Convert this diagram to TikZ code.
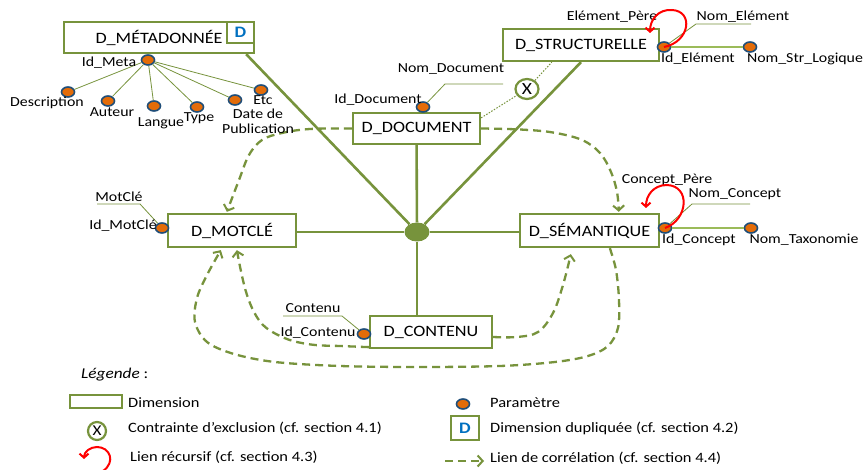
\documentclass[tikz,border=0pt]{standalone}
\usepackage{fontspec}
\setmainfont{Carlito}[FakeStretch=1.15]
\usetikzlibrary{arrows.meta,calc,shapes.geometric}
\definecolor{olive}{HTML}{77933C}
\definecolor{lgreen}{HTML}{9BBB59}
\definecolor{dotorange}{HTML}{E36C09}
\definecolor{dotblue}{HTML}{1F4E79}
\definecolor{dblue}{HTML}{0070C0}
\newcommand\myLbl{\fontsize{13.8}{15}\selectfont}
\newcommand\myBox{\fontsize{15.8}{18}\selectfont}
\begin{document}
\begin{tikzpicture}[x=1pt,y=-1pt,
  every node/.style={font=\myLbl, text=black, inner sep=1pt},
  dimbox/.style={draw=olive, line width=2.3pt, fill=white, inner sep=0pt, font=\myBox},
  badge/.style={dimbox, text=dblue, font=\bfseries\fontsize{16}{16}\selectfont},
  param/.style={ellipse, draw=dotblue, fill=dotorange, line width=1.6pt, minimum width=13pt, minimum height=10pt, inner sep=0pt},
  xcirc/.style={circle, draw=olive, line width=2.2pt, fill=white, inner sep=0pt},
  link/.style={draw=olive, line width=2.6pt},
  thinl/.style={draw=olive, line width=0.8pt},
  pline/.style={draw=lgreen, line width=1.2pt},
  dotl/.style={draw=olive, line width=1pt, dash pattern=on 1.5pt off 1.5pt},
  corr/.style={draw=olive, line width=2.3pt, dash pattern=on 8pt off 5pt, -{Straight Barb[length=5pt,width=11pt,line width=2pt]}},
  recur/.style={draw=red, line width=2pt, -{Straight Barb[length=4pt,width=9pt,line width=2pt]}},
]
\fill[white] (0,0) rectangle (863,470);
\useasboundingbox (0,0) rectangle (863,470);

% dimension boxes
\node[dimbox, minimum width=190pt, minimum height=31pt] (meta) at (159,37.5) {D\_MÉTADONNÉE};
\node[badge, minimum width=27pt, minimum height=21pt] (badge) at (240.5,32.5) {D};
\node[dimbox, minimum width=156pt, minimum height=32pt] (struct) at (581,45) {D\_STRUCTURELLE};
\node[dimbox, minimum width=127pt, minimum height=31pt] (doc) at (416.5,128.5) {D\_DOCUMENT};
\node[dimbox, minimum width=128pt, minimum height=33pt] (mot) at (232,230.5) {D\_MOTCLÉ};
\node[dimbox, minimum width=139pt, minimum height=33pt] (sem) at (589.5,230.5) {D\_SÉMANTIQUE};
\node[dimbox, minimum width=122pt, minimum height=32pt] (cont) at (431,332) {D\_CONTENU};

% hub
\node[ellipse, fill=olive, minimum width=25pt, minimum height=19pt, inner sep=0pt] (hub) at (417,232) {};
\draw[link] ($(meta.south east)+(-9,0)$) -- (hub);
\draw[link] (struct.south) -- (hub);
\draw[link] (doc) -- (hub);
\draw[link] (hub) -- (hub |- cont.north);
\draw[link] (mot.east |- hub) -- (hub);
\draw[link] (hub) -- (sem.west |- hub);

% exclusion constraint
\node[xcirc, minimum width=23pt, minimum height=20pt, ellipse, font=\fontsize{17}{17}\selectfont] (xc) at (527,89) {X};
\draw[dotl] ($(doc.north east)+(0,6)$) -- (xc);
\draw[dotl] (xc) -- ($(struct.south west)+(50,0)$);

% correlation links
\coordinate (c1e) at ($(mot.north west)+(60,-1)$);
\draw[corr] plot[smooth, tension=0.6] coordinates {(doc.west) (310,129) (282,133) (262,140) (249,155) (239,180) (c1e)};
\coordinate (c2e) at ($(sem.north west)+(100,-1)$);
\draw[corr] plot[smooth, tension=0.6] coordinates {(doc.east) (520,129.5) (553,132.5) (582,140) (600,153) (611,172) (617,192) (c2e)};
\coordinate (c3s) at ($(cont.south west)+(0,-2)$);
\coordinate (c3e) at ($(mot.south west)+(70,2)$);
\draw[corr] plot[smooth, tension=0.6] coordinates {(c3s) (340,346) (315,345) (293,341) (276,334) (263,325) (254,312) (247,295) (242,276) (c3e)};
\coordinate (c4s) at ($(sem.south west)+(91,0)$);
\coordinate (c4e) at ($(mot.south west)+(54,2)$);
\draw[corr] plot[smooth, tension=0.55] coordinates {(c4s) (616,270) (619,300) (618,328) (608,346) (588,356) (555,362) (500,366) (420,367) (340,366) (275,362) (234,354) (207,342) (195,322) (197,298) (207,275) (c4e)};
\coordinate (c5s) at ($(cont.east)+(0,5)$);
\coordinate (c5e) at ($(sem.south west)+(52,6)$);
\draw[corr] plot[smooth, tension=0.6] coordinates {(c5s) (517,337) (538,332) (553,313) (563,285) (c5e)};

% parameters of D_METADONNEE
\node[param] (idmeta) at (148,60) {};
\node[param] (pdesc) at (68,92) {};
\node[param] (paut) at (108,101) {};
\node[param] (plang) at (154,106) {};
\node[param] (ptype) at (197,107) {};
\node[param] (pdate) at (235,100) {};
\node[param] (petc) at (261,90) {};
\foreach \p in {pdesc,paut,plang,ptype,pdate,petc} \draw[thinl] (idmeta) -- (\p);
\node (lidmeta) at (109,63) {Id\_Meta};
\node (ldesc) at (47,103) {Description};
\node (laut) at (112,112) {Auteur};
\node (llang) at (161,123) {Langue};
\node (ltype) at (199,118) {Type};
\node (letc) at (263,100) {Etc};
\node[align=center, font=\fontsize{13.8}{15}\selectfont] (ldate) at (258,121.5) {Date de\\Publication};

% D_DOCUMENT parameter
\node[param] (iddoc) at (423,107) {};
\node (liddoc) at (378,100) {Id\_Document};
\coordinate (nd1) at (445,84);
\coordinate (nd2) at (503,84);
\draw[thinl] (iddoc) -- (nd1) -- (nd2);
\node (lnomdoc) at (451,69) {Nom\_Document};

% D_STRUCTURELLE parameters
\node[param] (idelem) at (664,47) {};
\node[param] (nomstr) at (750,47) {};
\draw[pline] (idelem) -- (nomstr);
\coordinate (ne1) at (696,24);
\coordinate (ne2) at (751,24);
\draw[thinl] (idelem) -- (ne1) -- (ne2);
\node (lidelem) at (698,59) {Id\_Elément};
\node (lnomstr) at (805,59) {Nom\_Str\_Logique};
\node (lnomelem) at (743,17) {Nom\_Elément};
\node (lelpere) at (612,17) {Elément\_Père};
\draw[recur] (idelem.center) .. controls (690,42) and (694,11) .. (672,10) .. controls (658,9) and (650,20) .. (650,33);

% D_SEMANTIQUE parameters
\node[param] (idconc) at (665,228) {};
\node[param] (nomtax) at (751,228) {};
\draw[pline] (idconc) -- (nomtax);
\coordinate (nc1) at (692,204);
\coordinate (nc2) at (750,204);
\draw[thinl] (idconc) -- (nc1) -- (nc2);
\node (lidconc) at (699,240) {Id\_Concept};
\node (lnomtax) at (804,240) {Nom\_Taxonomie};
\node (lnomconc) at (735,194) {Nom\_Concept};
\node (lconcpere) at (667,180) {Concept\_Père};
\draw[recur] (idconc.center) .. controls (688,220) and (691,186) .. (667,185) .. controls (653,185) and (646,196) .. (646,208);

% D_MOTCLE parameter
\node[param] (idmot) at (162,228) {};
\coordinate (nm1) at (97,204);
\coordinate (nm2) at (140,204);
\draw[thinl] (nm1) -- (nm2) -- (idmot);
\node (lidmot) at (123,226) {Id\_MotClé};
\node (lmot) at (119,197) {MotClé};

% D_CONTENU parameter
\node[param] (idcont) at (364,334) {};
\coordinate (nt1) at (283,316);
\coordinate (nt2) at (342,316);
\draw[thinl] (nt1) -- (nt2) -- (idcont);
\node (lidcont) at (318,333) {Id\_Contenu};
\node (lcont) at (313,308) {Contenu};

% legend
\node[anchor=west, font=\fontsize{15}{16}\selectfont] (lgtitle) at (80,375) {\textit{Légende} :};
\node[dimbox, line width=2.2pt, minimum width=52pt, minimum height=13pt] (lgdim) at (96,401.5) {};
\node[anchor=west, font=\fontsize{14.3}{16}\selectfont] (lgdimt) at (127,403) {Dimension};
\node[xcirc, minimum size=18pt, font=\fontsize{15}{15}\selectfont] (lgx) at (97,431) {X};
\node[anchor=west, font=\fontsize{14.3}{16}\selectfont] (lgxt) at (127,428) {Contrainte d’exclusion (cf. section 4.1)};
\coordinate (lr1) at (103,471);
\coordinate (lr2) at (84,459);
\draw[recur] (lr1) .. controls (116,462) and (110,447) .. (97,447) .. controls (90,447) and (84,452) .. (lr2);
\node[anchor=west, font=\fontsize{14.3}{16}\selectfont] (lgrt) at (129,457) {Lien récursif (cf. section 4.3)};
\node[param] (lgp) at (463,404) {};
\node[anchor=west, font=\fontsize{14.3}{16}\selectfont] (lgpt) at (489,403) {Paramètre};
\node[badge, line width=2.2pt, minimum width=28pt, minimum height=24pt] (lgd) at (465,428) {D};
\node[anchor=west, font=\fontsize{14.3}{16}\selectfont] (lgdt) at (489,428) {Dimension dupliquée (cf. section 4.2)};
\coordinate (lc1) at (445,461);
\coordinate (lc2) at (484,461);
\draw[corr] (lc1) -- (lc2);
\node[anchor=west, font=\fontsize{14.3}{16}\selectfont] (lgct) at (489,458) {Lien de corrélation (cf. section 4.4)};
\end{tikzpicture}
\end{document}
